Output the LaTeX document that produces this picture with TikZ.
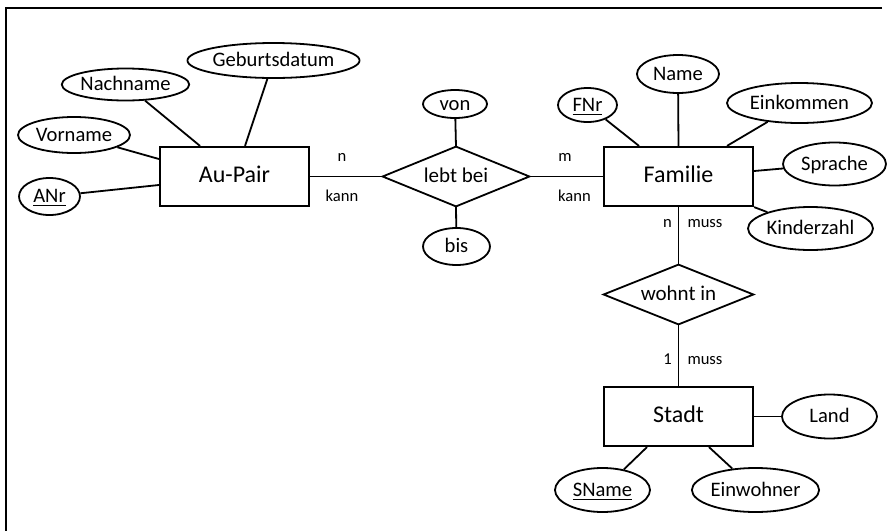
\documentclass[tikz,border=0pt]{standalone}
\usepackage{fontspec}
\setmainfont{Carlito}
\usetikzlibrary{shapes.geometric,calc}
\tikzset{
  base/.style={inner sep=0pt, text height=0.63em, text depth=0pt},
  entity/.style={base, draw=black, rectangle, line width=1.1pt, minimum width=74.5pt, minimum height=29.5pt, font=\fontsize{12}{14}\selectfont},
  rel/.style={base, rectangle, minimum width=73pt, minimum height=29.5pt, font=\fontsize{10.5}{12}\selectfont},
  reloutline/.style={line width=0.9pt, line join=miter},
  attr/.style={base, draw=black, ellipse, line width=0.9pt, font=\fontsize{10.3}{12}\selectfont},
  card/.style={inner sep=0pt, anchor=base, font=\fontsize{8.3}{10}\selectfont},
  conn/.style={line width=0.9pt},
  frame/.style={line width=1.3pt}
}
\begin{document}
\begin{tikzpicture}[x=0.5pt,y=-0.5pt]
\useasboundingbox (0,0) rectangle (891,531);
\draw[frame] (882,8) -- (6,8) -- (6,531);

% entities
\node[entity] (au) at (234.5,176.5) {Au-Pair};
\node[entity] (fam) at (678.5,176.5) {Familie};
\node[entity] (stadt) at (678.5,416.5) {Stadt};

% relationships
\node[rel] (lb) at (456,176.5) {lebt bei};
\draw[reloutline] (lb.west) -- (lb.north) -- (lb.east) -- (lb.south) -- cycle;
\node[rel, minimum width=74.5pt] (wi) at (678.5,294.5) {wohnt in};
\draw[reloutline] (wi.west) -- (wi.north) -- (wi.east) -- (wi.south) -- cycle;

% Au-Pair attributes
\node[attr, minimum width=79.5pt, minimum height=17.5pt] (geb) at (273.5,60.5) {Geburtsdatum};
\node[attr, minimum width=62.5pt, minimum height=16pt] (nach) at (125.5,84.5) {Nachname};
\node[attr, minimum width=56pt, minimum height=18pt] (vor) at (74,135) {Vorname};
\node[attr, minimum width=30.5pt, minimum height=18.5pt] (anr) at (49.5,196.5) {\underline{ANr}};

% lebt bei attributes
\node[attr, minimum width=32pt, minimum height=14pt] (von) at (455,104) {von};
\node[attr, minimum width=33.5pt, minimum height=18.5pt] (bis) at (456.5,246.5) {bis};

% Familie attributes
\node[attr, minimum width=29.5pt, minimum height=17pt] (fnr) at (587.5,105) {\underline{FNr}};
\node[attr, minimum width=41pt, minimum height=19pt] (name) at (678,74) {Name};
\node[attr, minimum width=72.5pt, minimum height=20pt] (eink) at (799.5,103) {Einkommen};
\node[attr, minimum width=51.5pt, minimum height=21.5pt] (spr) at (834.5,164) {Sprache};
\node[attr, minimum width=62.5pt, minimum height=21.5pt] (kind) at (810.5,228.5) {Kinderzahl};

% Stadt attributes
\node[attr, minimum width=47.5pt, minimum height=22pt] (land) at (829.5,416.5) {Land};
\node[attr, minimum width=47.5pt, minimum height=22pt] (sname) at (602.5,490) {\underline{SName}};
\node[attr, minimum width=62.5pt, minimum height=22pt] (einw) at (755.5,490) {Einwohner};

% connectors
\draw[conn] (au.east) -- (lb.west);
\draw[conn] (lb.east) -- (fam.west);
\draw[conn] (fam.south) -- (wi.north);
\draw[conn] (wi.south) -- (stadt.north);

\draw[conn] (lb.north) -- (von);
\draw[conn] (lb.south) -- (bis);

\draw[conn] (geb) -- ($(au.north)+(10.5,0)$);
\draw[conn] (nach) -- ($(au.north)+(-34.5,0)$);
\draw[conn] (vor) -- ($(au.west)+(0,-17.5)$);
\draw[conn] (anr) -- ($(au.west)+(0,8.5)$);

\draw[conn] (fnr) -- ($(fam.north)+(-39.5,0)$);
\draw[conn] (name) -- (fam.north);
\draw[conn] (eink) -- ($(fam.north)+(48.5,0)$);
\draw[conn] (spr) -- ($(fam.east)+(0,-5.5)$);
\draw[conn] (kind) -- (fam.south east);

\draw[conn] (land) -- (stadt.east);
\draw[conn] (sname) -- ($(stadt.south)+(-31.5,0)$);
\draw[conn] (einw) -- ($(stadt.south)+(30.5,0)$);

% cardinality labels
\node[card] (c1) at (342,161) {n};
\node[card] (c2) at (342,201) {kann};
\node[card] (c3) at (565,161) {m};
\node[card] (c4) at (574.5,201) {kann};
\node[card] (c5) at (667.5,227) {n};
\node[card] (c6) at (705,227) {muss};
\node[card] (c7) at (667.5,364) {1};
\node[card] (c8) at (705,364) {muss};
\end{tikzpicture}
\end{document}
